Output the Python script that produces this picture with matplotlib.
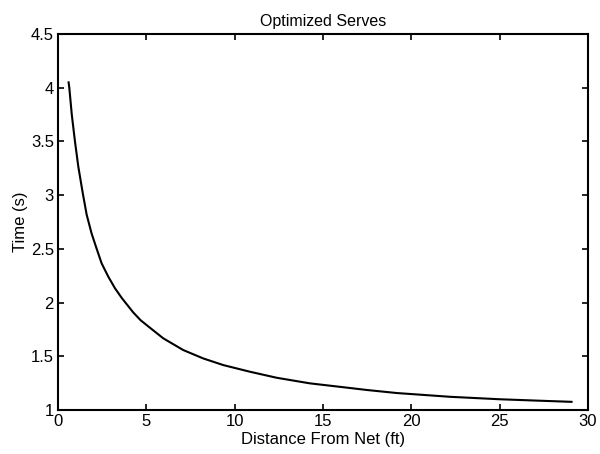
import matplotlib
matplotlib.use("Agg")
import matplotlib.pyplot as plt

plt.rcParams['font.family'] = ['Liberation Sans', 'DejaVu Sans']

distance_ft = [0.6, 0.64, 0.78, 0.96, 1.15, 1.40, 1.62, 1.90, 2.19, 2.47, 2.85,
               3.23, 3.60, 3.79, 4.26, 4.68, 5.21, 5.96, 7.09, 8.22, 9.36,
               10.87, 12.38, 14.26, 16.15, 17.5, 19.17, 22.18, 25.0, 27.0, 29.07]
time_s = [4.05, 4.0, 3.75, 3.5, 3.265, 3.02, 2.82, 2.644, 2.5, 2.365, 2.24,
          2.132, 2.045, 2.005, 1.908, 1.835, 1.765, 1.667, 1.558, 1.48, 1.418,
          1.356, 1.30, 1.248, 1.212, 1.186, 1.158, 1.123, 1.10, 1.088, 1.076]

xticks = [0, 5, 10, 15, 20, 25, 30]
yticks = [1, 1.5, 2, 2.5, 3, 3.5, 4, 4.5]
ytick_labels = ['1', '1.5', '2', '2.5', '3', '3.5', '4', '4.5']

fig = plt.figure(figsize=(6.0, 4.54), dpi=100)
ax = fig.add_axes([58/600, 44/454, 530/600, 376/454])
ax.plot(distance_ft, time_s, color='black', linewidth=1.5)
ax.set_xlim(0, 30)
ax.set_ylim(1, 4.5)
ax.set_xticks(xticks)
ax.set_xticklabels([str(t) for t in xticks])
ax.set_yticks(yticks)
ax.set_yticklabels(ytick_labels)
ax.tick_params(direction='in', length=4, width=1.2, top=True, right=True,
               labelsize=12, pad=3)
for s in ax.spines.values():
    s.set_linewidth(1.5)
ax.set_title('Optimized Serves', fontsize=11.5, pad=6)
ax.set_xlabel('Distance From Net (ft)', fontsize=12, labelpad=2)
ax.set_ylabel('Time (s)', fontsize=12, labelpad=2)
fig.savefig('out.png', dpi=100, facecolor='white')
